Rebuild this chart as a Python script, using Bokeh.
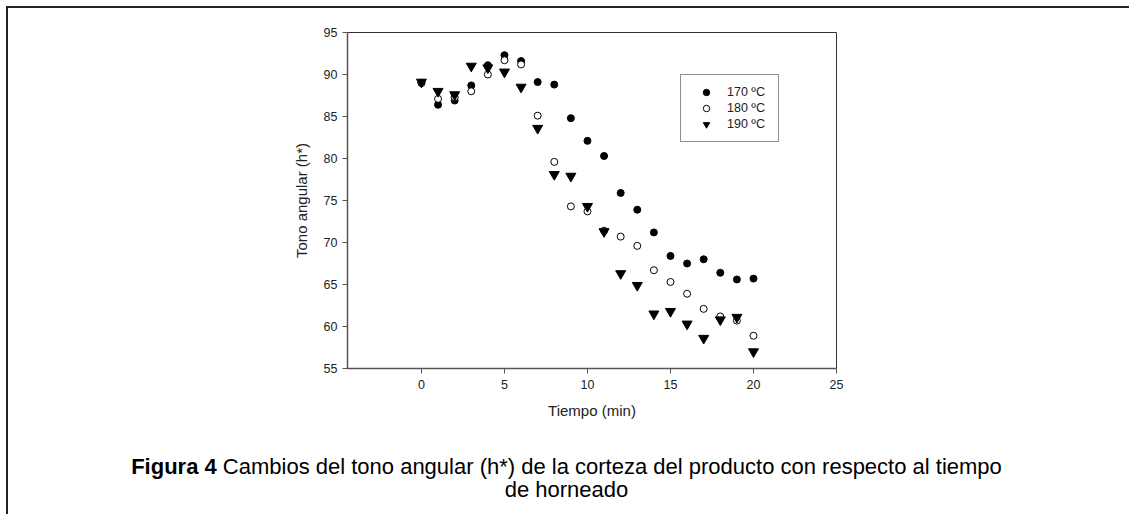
from bokeh.plotting import figure
from bokeh.models import Range1d, Legend, LegendItem, Div, SingleIntervalTicker
from bokeh.layouts import column
from bokeh.embed import file_html
from bokeh.resources import INLINE

# Data
tiempo = list(range(0, 21))
h_170 = [89.0, 86.4, 86.9, 88.7, 91.1, 92.3, 91.6, 89.1, 88.8, 84.8, 82.1,
         80.3, 75.9, 73.9, 71.2, 68.4, 67.5, 68.0, 66.4, 65.6, 65.7]
h_180 = [89.0, 87.1, 87.3, 88.0, 90.0, 91.7, 91.2, 85.1, 79.6, 74.3, 73.7,
         71.4, 70.7, 69.6, 66.7, 65.3, 63.9, 62.1, 61.2, 60.7, 58.9]
h_190 = [89.1, 88.0, 87.6, 91.0, 90.8, 90.3, 88.5, 83.6, 78.1, 77.9, 74.3,
         71.3, 66.3, 64.9, 61.5, 61.8, 60.3, 58.6, 60.8, 61.1, 57.0]
series_labels = ["170 ºC", "180 ºC", "190 ºC"]
x_label = "Tiempo (min)"
y_label = "Tono angular (h*)"
caption_bold = "Figura 4"
caption_line1 = "Cambios del tono angular (h*) de la corteza del producto con respecto al tiempo"
caption_line2 = "de horneado"

FONT = "Liberation Sans"
TXT = "#222222"
OFF = 8      # offset created by the outer frame (margin + border)
W = 1121     # inner width of the panel

p = figure(width=W, height=422, output_backend="svg", toolbar_location=None,
           x_range=Range1d(-4.455, 25), y_range=Range1d(55, 95),
           min_border_left=347 - OFF, min_border_right=W - (836 - OFF),
           min_border_top=32 - OFF, min_border_bottom=62)
p.xgrid.visible = False
p.ygrid.visible = False
p.outline_line_color = "#333333"
p.outline_line_width = 1
p.background_fill_color = "white"
p.border_fill_color = "white"

for ax in (p.xaxis[0], p.yaxis[0]):
    ax.axis_line_color = "#555555"
    ax.axis_line_width = 1.5
    ax.major_tick_line_color = "#555555"
    ax.major_tick_in = 0
    ax.major_tick_out = 5
    ax.minor_tick_line_color = None
    ax.major_label_text_font = FONT
    ax.major_label_text_font_size = "12.5px"
    ax.major_label_text_color = TXT
    ax.axis_label_text_font = FONT
    ax.axis_label_text_font_size = "15px"
    ax.axis_label_text_font_style = "normal"
    ax.axis_label_text_color = TXT

p.xaxis.ticker = SingleIntervalTicker(interval=5)
p.yaxis.ticker = SingleIntervalTicker(interval=5)
p.xaxis.axis_label = x_label
p.yaxis.axis_label = y_label
p.xaxis.major_label_standoff = 6
p.yaxis.major_label_standoff = 5
p.xaxis.axis_label_standoff = 10
p.yaxis.axis_label_standoff = 11

r170 = p.scatter(tiempo, h_170, marker="circle", size=7, fill_color="black",
                 line_color="black")
r180 = p.scatter(tiempo, h_180, marker="circle", size=7, fill_color="white",
                 line_color="black", line_width=1)
r190 = p.scatter(tiempo, h_190, marker="inverted_triangle", size=10,
                 fill_color="black", line_color="black")

legend = Legend(items=[LegendItem(label=series_labels[0], renderers=[r170]),
                       LegendItem(label=series_labels[1], renderers=[r180]),
                       LegendItem(label=series_labels[2], renderers=[r190])],
                location=(333, 226), orientation="vertical",
                border_line_color="#222222", border_line_width=1,
                background_fill_color="white", background_fill_alpha=1,
                padding=9, spacing=0, glyph_width=32, glyph_height=16,
                label_height=16, label_standoff=5, label_width=42,
                label_text_font=FONT, label_text_font_size="12.5px",
                label_text_color=TXT, margin=0)
p.add_layout(legend, "center")

cap_html = (
    '<div style="font-family:\'Liberation Sans\',Arial,sans-serif;font-size:22px;'
    'line-height:23px;text-align:center;color:#000;padding-top:25px;'
    f'padding-right:2px;width:{W - 2}px;white-space:nowrap;">'
    f'<b>{caption_bold}</b> {caption_line1}<br>{caption_line2}</div>'
)
cap = Div(text=cap_html, width=W, height=84, margin=0)

layout = column(p, cap, margin=(6, 0, 0, 6), spacing=0,
                styles={"border-top": "2px solid #222222",
                        "border-left": "2px solid #222222",
                        "border-right": "0px", "border-bottom": "0px"})

open("out.html", "w").write(file_html(layout, INLINE))
